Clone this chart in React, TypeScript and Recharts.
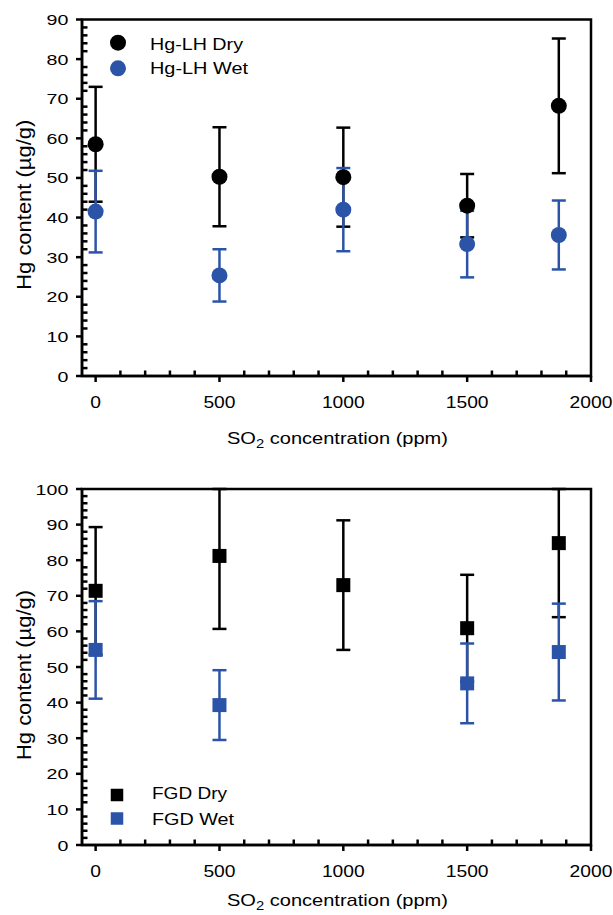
import React from 'react';
import { ScatterChart, Scatter, XAxis, YAxis, ErrorBar, Legend, ReferenceArea } from 'recharts';

const FONT = '"Liberation Sans", Arial, Helvetica, sans-serif';
const BLACK = '#000000';
const BLUE = '#2B54A8';

// ---- data ----
const concentrations = [0, 500, 1000, 1500, 1870];

const hgLhDry = [58.5, 50.3, 50.2, 43.0, 68.2];
const hgLhDryErr = [14.5, 12.5, 12.5, 8.0, 17.0];
const hgLhWet = [41.5, 25.4, 42.0, 33.3, 35.6];
const hgLhWetErr = [10.3, 6.6, 10.5, 8.4, 8.7];

const fgdDry = [71.4, 81.2, 73.0, 60.9, 84.8];
const fgdDryErr = [17.9, 20.5, 18.2, 15.0, 20.8];
const fgdWetConcentrations = [0, 500, 1500, 1870];
const fgdWet = [54.8, 39.3, 45.4, 54.2];
const fgdWetErr = [13.7, 9.8, 11.2, 13.6];

const xTickValues = [0, 100, 200, 300, 400, 500, 600, 700, 800, 900, 1000, 1100, 1200, 1300, 1400, 1500, 1600, 1700, 1800, 1900, 2000];
const xMajorStep = 500;
const yMajorStep = 10;
const yMinorStep = 2;
const xDomain: [number, number] = [-55, 2000];

const seriesNamesTop = ['Hg-LH Dry', 'Hg-LH Wet'];
const seriesNamesBottom = ['FGD Dry', 'FGD Wet'];
const yTitle = 'Hg content (\u00B5g/g)';

// error bars are cut by the top of the frame, as in the reference
const toRows = (xs: number[], ys: number[], errs: number[], yMax: number) =>
  xs.map((x, i) => ({ x, y: ys[i], err: [errs[i], Math.min(errs[i], yMax - ys[i])] }));

const makeYTicks = (max: number) => {
  const t: number[] = [];
  for (let v = 0; v <= max; v += yMinorStep) t.push(v);
  return t;
};

const XTick = (props: any) => {
  const { x, y, payload } = props;
  const v = payload.value;
  if (v % xMajorStep !== 0) {
    return <line x1={x} y1={y} x2={x} y2={y - 5.5} stroke={BLACK} strokeWidth={2.5} />;
  }
  const s = String(v);
  return (
    <g>
      <line x1={x} y1={y} x2={x} y2={y + 6} stroke={BLACK} strokeWidth={2.5} />
      <text
        x={x}
        y={y + 32}
        textAnchor="middle"
        fontSize={16}
        fontFamily={FONT}
        fill={BLACK}
        textLength={s.length * 10.7}
        lengthAdjust="spacingAndGlyphs"
      >
        {s}
      </text>
    </g>
  );
};

const YTick = (props: any) => {
  const { x, y, payload } = props;
  const v = payload.value;
  if (v % yMajorStep !== 0) {
    return <line x1={x} y1={y} x2={x + 5.5} y2={y} stroke={BLACK} strokeWidth={2.5} />;
  }
  const s = String(v);
  const w = s.length * 10.9;
  return (
    <g>
      <line x1={x} y1={y} x2={x - 6} y2={y} stroke={BLACK} strokeWidth={2.5} />
      <text
        x={x - 13.7 - w}
        y={y + 5.5}
        textAnchor="start"
        fontSize={15.5}
        fontFamily={FONT}
        fill={BLACK}
        textLength={w}
        lengthAdjust="spacingAndGlyphs"
      >
        {s}
      </text>
    </g>
  );
};

const makeXTitle = (baselineOffset: number) => (props: any) => {
  const vb = props.viewBox || {};
  const cx = vb.x + vb.width / 2 + 1;
  const by = vb.y + baselineOffset;
  return (
    <text
      x={cx}
      y={by}
      textAnchor="middle"
      fontSize={17}
      fontFamily={FONT}
      fill={BLACK}
      textLength={221}
      lengthAdjust="spacingAndGlyphs"
    >
      SO
      <tspan fontSize={12.5} dy={4}>2</tspan>
      <tspan dy={-4}> concentration (ppm)</tspan>
    </text>
  );
};

const makeYTitle = (shift: number) => (props: any) => {
  const vb = props.viewBox || {};
  const cy = vb.y + vb.height / 2 + shift;
  const bx = 30.5;
  return (
    <text
      x={bx}
      y={cy}
      transform={`rotate(-90, ${bx}, ${cy})`}
      textAnchor="middle"
      fontSize={20}
      fontFamily={FONT}
      fill={BLACK}
      textLength={170}
      lengthAdjust="spacingAndGlyphs"
    >
      {yTitle}
    </text>
  );
};

type LegendItem = { name: string; color: string; cx: number; cy: number; tx: number; ty: number; tw: number; shape: 'circle' | 'square'; size: number; font: number };

const LegendSvg = ({ items, w, h }: { items: LegendItem[]; w: number; h: number }) => (
  <svg width={w} height={h} style={{ display: 'block' }}>
    {items.map((it) => (
      <g key={it.name}>
        {it.shape === 'circle' ? (
          <circle cx={it.cx} cy={it.cy} r={it.size / 2} fill={it.color} />
        ) : (
          <rect x={it.cx - it.size / 2} y={it.cy - it.size / 2} width={it.size} height={it.size} fill={it.color} />
        )}
        <text
          x={it.tx}
          y={it.ty}
          fontSize={it.font}
          fontFamily={FONT}
          fill={BLACK}
          textLength={it.tw}
          lengthAdjust="spacingAndGlyphs"
        >
          {it.name}
        </text>
      </g>
    ))}
  </svg>
);

const circleShape = (color: string) => (p: any) => <circle cx={p.cx} cy={p.cy} r={8} fill={color} />;
const squareShape = (color: string) => (p: any) => (
  <rect x={p.cx - 7} y={p.cy - 7} width={14} height={14} fill={color} />
);

type Row = { x: number; y: number; err: number[] };

type PanelProps = {
  height: number;
  plotTop: number;
  plotBottom: number;
  yMax: number;
  dry: Row[];
  wet: Row[];
  names: string[];
  marker: 'circle' | 'square';
  titleOffset: number;
  yTitleShift: number;
  legendItems: LegendItem[];
};

const Panel = (p: PanelProps) => {
  const axisLine = { stroke: BLACK, strokeWidth: 2.5 };
  const shapeFn = p.marker === 'circle' ? circleShape : squareShape;
  return (
    <ScatterChart
      width={613}
      height={p.height}
      margin={{ top: p.plotTop, right: 22, bottom: 0, left: 0 }}
      style={{ fontFamily: FONT }}
    >
      <XAxis
        xAxisId="main"
        type="number"
        dataKey="x"
        domain={xDomain}
        ticks={xTickValues}
        interval={0}
        allowDataOverflow
        tickSize={0}
        tickMargin={0}
        tickLine={false}
        axisLine={axisLine}
        height={p.height - p.plotBottom}
        tick={<XTick />}
        label={makeXTitle(p.titleOffset)}
      />
      <YAxis
        yAxisId="main"
        type="number"
        dataKey="y"
        domain={[0, p.yMax]}
        ticks={makeYTicks(p.yMax)}
        interval={0}
        allowDataOverflow
        tickSize={0}
        tickMargin={0}
        tickLine={false}
        axisLine={axisLine}
        width={82}
        tick={<YTick />}
        label={makeYTitle(p.yTitleShift)}
      />
      <ReferenceArea
        xAxisId="main"
        yAxisId="main"
        x1={xDomain[0]}
        x2={xDomain[1]}
        y1={0}
        y2={p.yMax}
        fill="none"
        fillOpacity={0}
        stroke={BLACK}
        strokeWidth={2.5}
        ifOverflow="visible"
      />
      <Scatter
        name={p.names[0]}
        xAxisId="main"
        yAxisId="main"
        data={p.dry}
        fill={BLACK}
        shape={shapeFn(BLACK)}
        isAnimationActive={false}
      >
        <ErrorBar dataKey="err" direction="y" width={7} stroke={BLACK} strokeWidth={2.5} isAnimationActive={false} />
      </Scatter>
      <Scatter
        name={p.names[1]}
        xAxisId="main"
        yAxisId="main"
        data={p.wet}
        fill={BLUE}
        shape={shapeFn(BLUE)}
        isAnimationActive={false}
      >
        <ErrorBar dataKey="err" direction="y" width={7} stroke={BLUE} strokeWidth={2.5} isAnimationActive={false} />
      </Scatter>
      <Legend
        layout="vertical"
        align="center"
        verticalAlign="middle"
        wrapperStyle={{ left: 0, top: 0, width: 613, height: p.height, pointerEvents: 'none' }}
        content={() => <LegendSvg items={p.legendItems} w={613} h={p.height} />}
      />
    </ScatterChart>
  );
};

const topLegend: LegendItem[] = [
  { name: seriesNamesTop[0], color: BLACK, cx: 118, cy: 42.7, tx: 150, ty: 49.5, tw: 93, shape: 'circle', size: 16, font: 17 },
  { name: seriesNamesTop[1], color: BLUE, cx: 118, cy: 68.3, tx: 150, ty: 73.5, tw: 98, shape: 'circle', size: 16, font: 17 },
];

const bottomLegend: LegendItem[] = [
  { name: seriesNamesBottom[0], color: BLACK, cx: 117, cy: 335, tx: 152, ty: 338.5, tw: 75, shape: 'square', size: 12.5, font: 16.5 },
  { name: seriesNamesBottom[1], color: BLUE, cx: 117, cy: 358.5, tx: 152, ty: 364.5, tw: 82, shape: 'square', size: 12.5, font: 16.5 },
];

export default function App() {
  return (
    <div style={{ position: 'absolute', left: 0, top: 0, width: 613, height: 915, background: '#fff', overflow: 'hidden' }}>
      <div style={{ position: 'absolute', left: 0, top: 0 }}>
        <Panel
          height={460}
          plotTop={19.5}
          plotBottom={376}
          yMax={90}
          dry={toRows(concentrations, hgLhDry, hgLhDryErr, 90)}
          wet={toRows(concentrations, hgLhWet, hgLhWetErr, 90)}
          names={seriesNamesTop}
          marker="circle"
          titleOffset={68}
          yTitleShift={7}
          legendItems={topLegend}
        />
      </div>
      <div style={{ position: 'absolute', left: 0, top: 460 }}>
        <Panel
          height={455}
          plotTop={29}
          plotBottom={385}
          yMax={100}
          dry={toRows(concentrations, fgdDry, fgdDryErr, 100)}
          wet={toRows(fgdWetConcentrations, fgdWet, fgdWetErr, 100)}
          names={seriesNamesBottom}
          marker="square"
          titleOffset={61}
          yTitleShift={8}
          legendItems={bottomLegend}
        />
      </div>
    </div>
  );
}
